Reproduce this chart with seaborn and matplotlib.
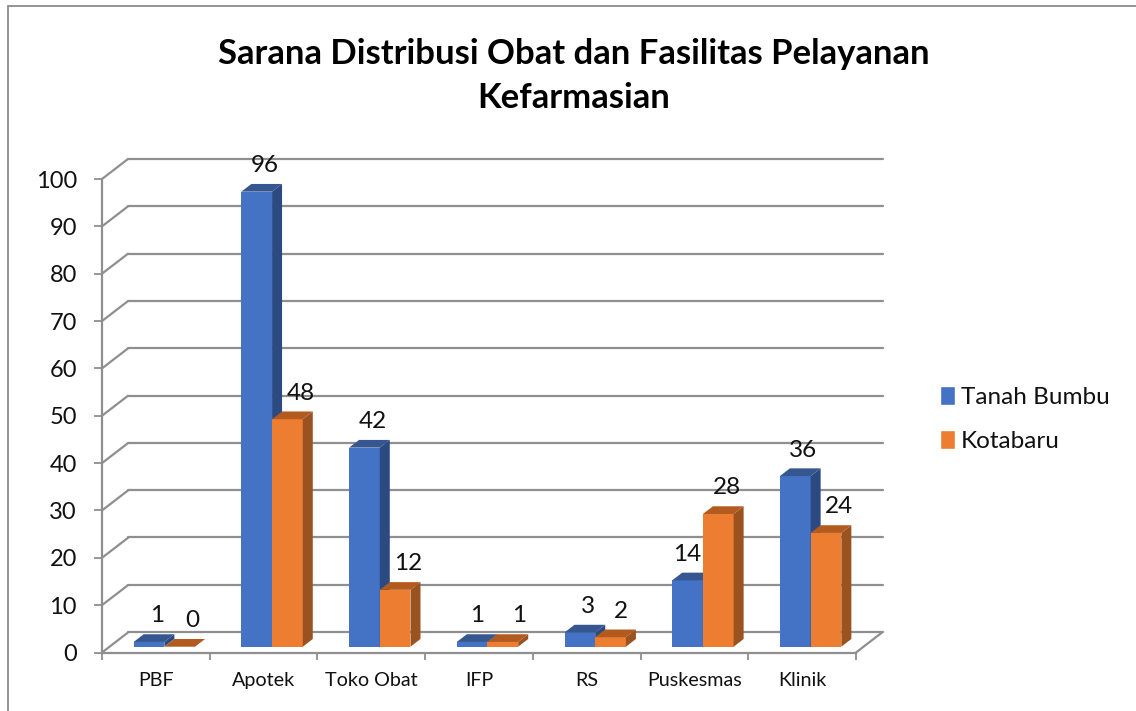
import pandas as pd
import matplotlib
matplotlib.use("Agg")
import matplotlib.pyplot as plt
from matplotlib.lines import Line2D
from matplotlib.patches import Patch, Polygon
import seaborn as sns

categories = ["PBF", "Apotek", "Toko Obat", "IFP", "RS", "Puskesmas", "Klinik"]
tanah_bumbu = [1, 96, 42, 1, 3, 14, 36]
kotabaru = [0, 48, 12, 1, 2, 28, 24]
series_names = ["Tanah Bumbu", "Kotabaru"]
y_ticks = [0, 10, 20, 30, 40, 50, 60, 70, 80, 90, 100]

W, H = 1136, 711
GRID = "#8f8f8f"
FRONT = ["#4472C4", "#ED7D31"]
SIDE = ["#2B4A82", "#9A5220"]
TOP = ["#35568F", "#B35A1F"]

# sideways nudges of the value labels in pixels, per series
label_px = [[8, 8, 8, 5, 8, 0, 8], [13, 13, 13, 16, 10, 9, 13]]

sns.set_style("white")
plt.rcParams["font.family"] = ["Lato", "DejaVu Sans"]


# axes from pixel box, pixels counted from the top left
def box_axes(fig, left, right, top, bottom):
    return fig.add_axes([left / W, 1 - bottom / H, (right - left) / W, (bottom - top) / H])


df = pd.DataFrame({
    "cat": categories * 2,
    "val": tanah_bumbu + kotabaru,
    "series": [series_names[0]] * 7 + [series_names[1]] * 7,
})

fig = plt.figure(figsize=(W / 100, H / 100), dpi=100)

# outer chart border
fig.add_artist(Line2D([8 / W, 8 / W], [0, 1 - 6 / H], color="#8c8c8c", lw=1.3))
fig.add_artist(Line2D([8 / W, 1], [1 - 6 / H, 1 - 6 / H], color="#8c8c8c", lw=1.3))

# back wall with the gridlines
ax_back = box_axes(fig, 128, 883, 159, 632)
ax_back.set_xlim(0, 1)
ax_back.set_ylim(0, 100)
ax_back.set_yticks(y_ticks)
ax_back.set_xticks([])
ax_back.set_yticklabels([])
ax_back.grid(axis="y", color=GRID, lw=1.6)
for gl in ax_back.get_ygridlines():
    gl.set_clip_on(False)
ax_back.tick_params(left=False)
sns.despine(ax=ax_back, left=True, bottom=True)

# front plane carries the axes and tick labels
ax_front = box_axes(fig, 102, 856, 179, 652.5)
ax_front.patch.set_alpha(0)
ax_front.set_xlim(-0.5, 6.5)
ax_front.set_ylim(0, 100)
ax_front.set_yticks(y_ticks)
ax_front.set_xticks(range(7))
ax_front.set_xticklabels(categories, fontsize=14.2)
ax_front.set_xticks([i - 0.5 for i in range(8)], minor=True)
ax_front.tick_params(axis="y", labelsize=17, length=6, width=1.3, color=GRID, left=True, pad=12, labelcolor="#111111")
ax_front.tick_params(axis="x", which="major", length=0, pad=14, labelcolor="#111111")
ax_front.tick_params(axis="x", which="minor", length=5, width=1.3, color=GRID, bottom=True)
sns.despine(ax=ax_front, top=True, right=True)
for s in ["left", "bottom"]:
    ax_front.spines[s].set_color(GRID)
    ax_front.spines[s].set_linewidth(1.6)

# connectors between the front plane and back wall
depth_x = 26 / (754 / 7)
depth_y = 20 / 4.735
for t in y_ticks:
    ax_front.plot([-0.5, -0.5 + depth_x], [t, t + depth_y], color=GRID, lw=1.6, clip_on=False)
ax_front.plot([6.5, 6.5 + depth_x], [0, depth_y], color=GRID, lw=1.6, clip_on=False)

# bars sit halfway into the floor
ax = box_axes(fig, 110.5, 864.5, 172.7, 646.7)
ax.patch.set_alpha(0)
sns.barplot(data=df, x="cat", y="val", hue="series", hue_order=series_names, order=categories,
            palette=FRONT, width=0.57, gap=0, legend=False, ax=ax, saturation=1)
ax.set_xlim(-0.5, 6.5)
ax.set_ylim(0, 100)
ax.set_axis_off()

dx = 10 / (754 / 7)
dy = 7.7 / 4.74
for s, container in enumerate(ax.containers):
    for i, (patch, v) in enumerate(zip(container, container.datavalues)):
        patch.set_zorder(2 + s)
        patch.set_linewidth(0)
        x0 = patch.get_x()
        x1 = x0 + patch.get_width()
        ax.add_patch(Polygon([(x1, 0), (x1 + dx, dy), (x1 + dx, v + dy), (x1, v)],
                             facecolor=SIDE[s], lw=0, zorder=2 + s, clip_on=False))
        ax.add_patch(Polygon([(x0, v), (x0 + dx, v + dy), (x1 + dx, v + dy), (x1, v)],
                             facecolor=TOP[s], lw=0, zorder=2 + s, clip_on=False))
        ax.annotate(str(int(v)), ((x0 + x1) / 2, v), xytext=(label_px[s][i], 26), textcoords="offset pixels",
                    ha="center", va="center", fontsize=17.5, color="#111111", zorder=6,
                    annotation_clip=False)

fig.text(574 / W, 1 - 76 / H, "Sarana Distribusi Obat dan Fasilitas Pelayanan\nKefarmasian",
         ha="center", va="center", fontsize=24.9, fontweight="bold", color="black", linespacing=1.45)

handles = [Patch(facecolor=FRONT[0], label=series_names[0]), Patch(facecolor=FRONT[1], label=series_names[1])]
fig.legend(handles=handles, loc="upper left", bbox_to_anchor=(918 / W, 1 - 364 / H), frameon=False,
           fontsize=17.5, handlelength=0.62, handleheight=0.85, handletextpad=0.25, labelspacing=0.9,
           labelcolor="#111111")

fig.savefig("out.png", dpi=100)
